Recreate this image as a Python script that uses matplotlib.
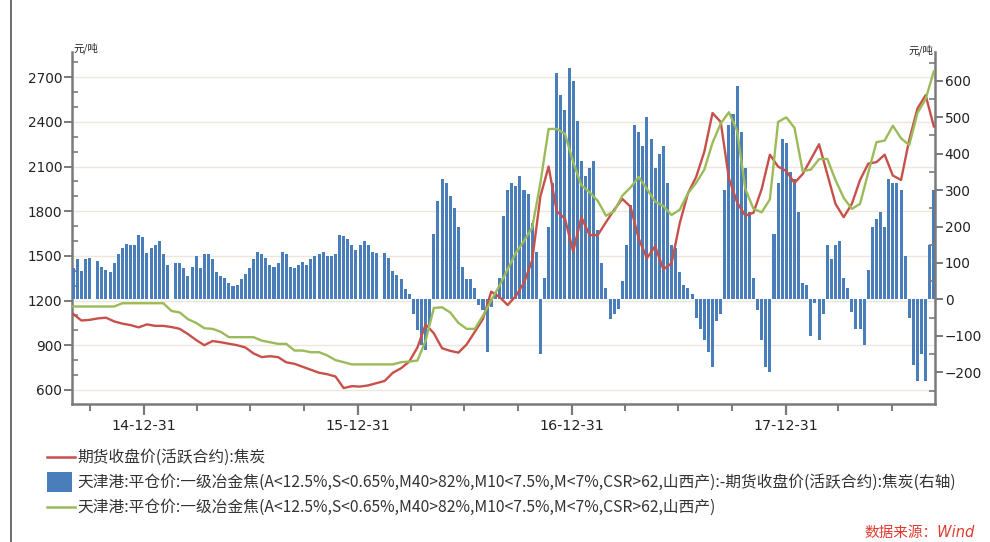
import numpy as np
import pandas as pd
import matplotlib
matplotlib.use('Agg')
import matplotlib.pyplot as plt
import matplotlib.dates as mdates
from matplotlib.lines import Line2D
from matplotlib.patches import Rectangle
from matplotlib.ticker import FixedLocator, MultipleLocator, NullFormatter

nan = np.nan

# ---------------- data ----------------
first_week = '2014-09-01'   # weekly samples (spread bars); lines are every 2 weeks

# spot - futures spread (right axis), weekly
spread = [
    85, 110, 78, 112, 115, nan, 105, 88, 80, 75,
    100, 125, 140, 152, 150, 148, 178, 172, 128, 140,
    150, 160, 125, 95, nan, 100, 100, 85, 65, 90,
    120, 85, 125, 125, 110, 75, 65, 60, 45, 38,
    40, 55, 70, 85, 110, 130, 125, 115, 95, 90,
    100, 130, 125, 90, 85, 95, 102, 95, 110, 120,
    125, 130, 118, 120, 125, 178, 175, 165, 148, 135,
    150, 160, 150, 130, 128, nan, 128, 115, 78, 68,
    55, 28, 15, -40, -85, -125, -140, -70, 180, 270,
    330, 320, 285, 250, 200, 90, 55, 55, 30, -15,
    -30, -145, -20, 20, 60, 230, 300, 320, 310, 340,
    300, 290, 210, 130, -150, 60, 200, 320, 620, 560,
    520, 635, 600, 490, 380, 340, 360, 380, 190, 100,
    30, -55, -40, -25, 50, 150, 260, 480, 460, 420,
    500, 440, 360, 400, 420, 320, 150, 140, 75, 40,
    30, 15, -50, -80, -110, -145, -185, -60, -40, 300,
    480, 510, 585, 460, 360, 240, 60, -30, -110, -185,
    -200, 180, 320, 440, 430, 350, 330, 240, 45, 40,
    -100, -10, -110, -40, 150, 110, 150, 160, 60, 30,
    -35, -80, -80, -125, 80, 200, 220, 240, 200, 330,
    320, 320, 300, 120, -50, -180, -225, -150, -225, 150,
    300,
]

# futures close (active contract), coke, every 2 weeks
futures = [
    1110, 1066, 1070, 1080, 1085, 1060, 1045, 1035, 1020, 1040,
    1030, 1030, 1022, 1010, 975, 935, 900, 928, 920, 910,
    900, 885, 845, 820, 826, 820, 785, 775, 755, 735,
    715, 705, 690, 612, 625, 622, 630, 645, 660, 715,
    745, 790, 885, 1040, 980, 880, 862, 850, 905, 990,
    1077, 1260, 1225, 1170, 1230, 1320, 1470, 1900, 2100, 1800,
    1750, 1530, 1760, 1640, 1640, 1726, 1810, 1883, 1830, 1615,
    1485, 1565, 1410, 1450, 1720, 1920, 2030, 2200, 2460, 2400,
    2020, 1860, 1770, 1790, 1950, 2180, 2100, 2070, 1990, 2050,
    2150, 2250, 2050, 1850, 1760, 1850, 2010, 2120, 2130, 2180,
    2040, 2010, 2280, 2490, 2580, 2370,
]

# Tianjin port FOB price, grade-1 met coke (Shanxi), every 2 weeks
spot = [
    1160, 1160, 1160, 1160, 1160, 1160, 1182, 1182, 1182, 1182,
    1182, 1182, 1130, 1120, 1075, 1050, 1014, 1010, 990, 954,
    954, 954, 954, 931, 920, 909, 909, 864, 864, 853,
    853, 831, 800, 786, 771, 771, 771, 771, 771, 771,
    786, 790, 797, 930, 1150, 1155, 1120, 1050, 1010, 1010,
    1099, 1200, 1300, 1410, 1520, 1600, 1690, 1990, 2353, 2353,
    2320, 2130, 1975, 1928, 1870, 1770, 1800, 1905, 1960, 2030,
    1950, 1865, 1835, 1775, 1810, 1920, 1990, 2080, 2260, 2390,
    2465, 2340, 1950, 1816, 1793, 1880, 2400, 2431, 2360, 2070,
    2080, 2150, 2152, 2010, 1890, 1816, 1850, 2060, 2264, 2275,
    2375, 2290, 2245, 2460, 2554, 2740,
]

major_dates = ['2014-12-31', '2015-12-31', '2016-12-31', '2017-12-31']
major_labels = ['14-12-31', '15-12-31', '16-12-31', '17-12-31']
minor_dates = ['2014-09-30', '2015-03-31', '2015-06-30', '2015-09-30',
               '2016-03-31', '2016-06-30', '2016-09-30',
               '2017-03-31', '2017-06-30', '2017-09-30',
               '2018-03-31', '2018-06-30']
left_ticks = [600, 900, 1200, 1500, 1800, 2100, 2400, 2700]
right_ticks = [-200, -100, 0, 100, 200, 300, 400, 500, 600]

legend_labels = [
    '期货收盘价(活跃合约):焦炭',
    '天津港:平仓价:一级冶金焦(A<12.5%,S<0.65%,M40>82%,M10<7.5%,M<7%,CSR>62,山西产):-期货收盘价(活跃合约):焦炭(右轴)',
    '天津港:平仓价:一级冶金焦(A<12.5%,S<0.65%,M40>82%,M10<7.5%,M<7%,CSR>62,山西产)',
]
unit_label = '元/吨'
source_label = '数据来源：Wind'

# ---------------- drawing ----------------
CJK = ['Noto Sans CJK SC', 'DejaVu Sans']
RED = '#c8504a'
GREEN = '#9bbb59'
BLUE = '#4a7ebb'
SPINE = '#7a7a7a'
TXT = '#222222'

weeks = mdates.date2num(pd.date_range(first_week, periods=len(spread), freq='7D').to_pydatetime())
line_x = weeks[::2]

fig = plt.figure(figsize=(9.9, 5.42), dpi=100)
fig.patch.set_facecolor('white')

L, R, T, B = 72, 935, 52, 404
ax = fig.add_axes([L / 990, (542 - B) / 542, (R - L) / 990, (B - T) / 542])
axr = ax.twinx()
axl = ax.twinx()

xmin = mdates.date2num(pd.Timestamp('2014-08-30'))
xmax = mdates.date2num(pd.Timestamp('2018-09-12'))
for a in (ax, axr, axl):
    a.set_xlim(xmin, xmax)

ax.set_ylim(505, 2870)
axl.set_ylim(505, 2870)
axr.set_ylim(-287, 679)

# grid on left axis
ax.yaxis.set_major_locator(FixedLocator(left_ticks))
ax.yaxis.set_minor_locator(MultipleLocator(100))
ax.grid(axis='y', which='major', color='#ebe7da', linewidth=1.0)
ax.set_axisbelow(True)

# bars
axr.bar(weeks, spread, width=5.2, color=BLUE, linewidth=0, align='center')
axr.yaxis.set_major_locator(FixedLocator(right_ticks))
axr.yaxis.set_minor_locator(MultipleLocator(50))

# lines
axl.plot(line_x, futures, color=RED, linewidth=1.7)
axl.plot(line_x, spot, color=GREEN, linewidth=1.7)
axl.yaxis.set_visible(False)
for s in axl.spines.values():
    s.set_visible(False)

# spines
for a in (ax, axr):
    a.spines['top'].set_visible(False)
ax.spines['right'].set_visible(False)
axr.spines['left'].set_visible(False)
axr.spines['bottom'].set_visible(False)
for side in ('left', 'bottom'):
    ax.spines[side].set_color(SPINE)
    ax.spines[side].set_linewidth(1.8)
axr.spines['right'].set_color(SPINE)
axr.spines['right'].set_linewidth(1.8)

# x ticks
ax.xaxis.set_major_locator(FixedLocator(mdates.date2num(pd.to_datetime(major_dates).to_pydatetime())))
ax.xaxis.set_minor_locator(FixedLocator(mdates.date2num(pd.to_datetime(minor_dates).to_pydatetime())))
ax.set_xticklabels(major_labels)
ax.tick_params(axis='x', which='major', direction='out', length=8, width=1.6,
               color=SPINE, labelsize=10.3, labelcolor=TXT, pad=3)
ax.tick_params(axis='x', which='minor', direction='out', length=5, width=1.4, color=SPINE)

# y ticks
ax.tick_params(axis='y', which='major', direction='out', length=6, width=1.4,
               color=SPINE, labelsize=9.8, labelcolor=TXT, pad=1)
ax.tick_params(axis='y', which='minor', direction='in', length=4, width=1.2, color=SPINE)
ax.yaxis.set_minor_formatter(NullFormatter())
axr.tick_params(axis='y', which='major', direction='out', length=6, width=1.4,
                color=SPINE, labelsize=9.8, labelcolor=TXT, pad=1)
axr.tick_params(axis='y', which='minor', direction='in', length=4, width=1.2, color=SPINE)
axr.yaxis.set_minor_formatter(NullFormatter())

# unit labels
fig.text(73 / 990, 1 - 48 / 542, unit_label, family=CJK, fontsize=7.5, color=TXT,
         ha='left', va='center')
fig.text(933 / 990, 1 - 50 / 542, unit_label, family=CJK, fontsize=7.5, color=TXT,
         ha='right', va='center')

# legend (manual)
ys = [457, 482, 507]
fig.add_artist(Line2D([47 / 990, 75 / 990], [1 - ys[0] / 542] * 2, color=RED, linewidth=1.8,
                      transform=fig.transFigure))
fig.add_artist(Rectangle((47 / 990, 1 - 492 / 542), 25 / 990, 20 / 542, facecolor=BLUE,
                         edgecolor='none', transform=fig.transFigure))
fig.add_artist(Line2D([47 / 990, 75 / 990], [1 - ys[2] / 542] * 2, color=GREEN, linewidth=1.8,
                      transform=fig.transFigure))
for y, lab in zip(ys, legend_labels):
    fig.text(77 / 990, 1 - y / 542, lab, family=CJK, fontsize=11.3, color='#333333',
             ha='left', va='center')

fig.text(975 / 990, 1 - 533 / 542, source_label, family=['DejaVu Sans', 'Noto Sans CJK SC'],
         style='italic', fontsize=10.5, color='#e03a30', ha='right', va='center')

# outer frame line on the left
fig.add_artist(Line2D([10.5 / 990, 10.5 / 990], [0, 1], color='#555555', linewidth=1.2,
                      transform=fig.transFigure))

fig.savefig('out.png', dpi=100, facecolor='white')
